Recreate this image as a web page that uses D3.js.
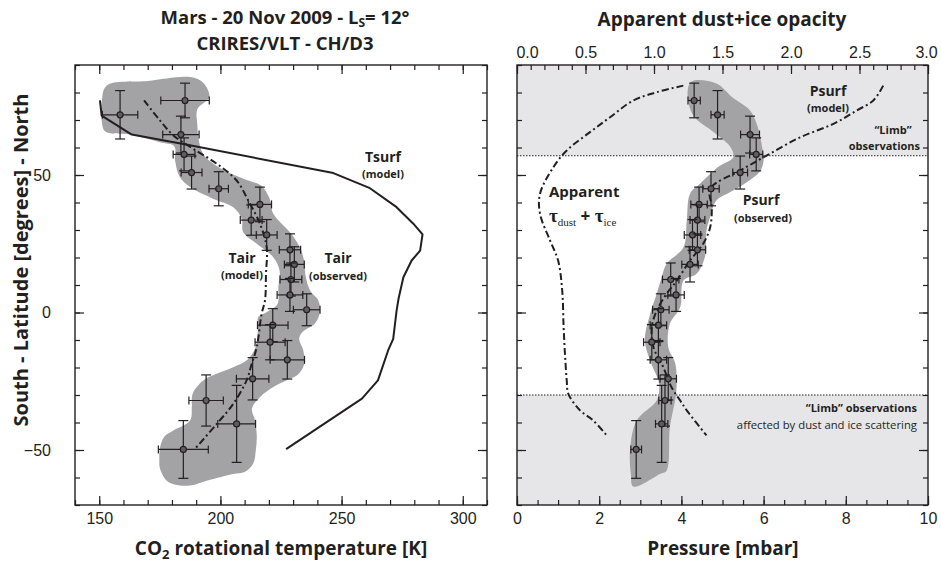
<!DOCTYPE html>
<html>
<head>
<meta charset="utf-8">
<script src="https://cdn.jsdelivr.net/npm/d3@7"></script>
<style>
  html, body { margin: 0; padding: 0; background: #fff; }
  svg { display: block; }
  .tick text { font-family: "Liberation Sans", Arial, sans-serif; font-size: 16px; fill: #231f20; }
  .tick line { stroke: #231f20; stroke-width: 1.2; }
  .domain { display: none; }
  .lbl { font-family: "Open Sans", sans-serif; fill: #231f20; }
</style>
</head>
<body>
<svg id="chart" width="941" height="564"></svg>
<script>
// ---- Observations (shared latitudes for both panels) ----
const lat      = [77.1, 71.9, 64.7, 57.5, 50.9, 45.0, 39.3, 33.6, 28.2, 22.8, 17.5, 12.0, 6.4, 1.0, -4.6, -10.8, -17.2, -24.1, -32.0, -40.5, -49.8];
const latErr   = [6.3, 8.8, 6.7, 6.0, 6.0, 6.2, 6.3, 5.5, 5.6, 5.8, 6.4, 6.0, 6.0, 5.8, 6.0, 6.4, 7.0, 7.7, 9.3, 14.0, 10.5];
// CO2 rotational temperature [K]
const tAir     = [185.4, 158.6, 183.7, 185.0, 188.1, 199.3, 216.3, 212.7, 219.1, 228.7, 230.5, 229.1, 228.7, 235.6, 221.6, 220.5, 227.6, 213.3, 194.1, 206.7, 184.7];
const tAirErr  = [10.0, 7.3, 7.5, 4.5, 4.3, 4.0, 4.8, 4.5, 4.3, 4.4, 4.1, 4.5, 5.3, 5.5, 6.3, 6.2, 7.1, 6.7, 7.1, 7.8, 10.3];
// Surface pressure [mbar]
const pSurf    = [4.31, 4.88, 5.67, 5.82, 5.43, 4.72, 4.43, 4.39, 4.27, 4.39, 4.21, 3.74, 3.87, 3.50, 3.44, 3.28, 3.44, 3.68, 3.60, 3.52, 2.90];
const pSurfErr = [0.15, 0.16, 0.23, 0.16, 0.18, 0.20, 0.20, 0.18, 0.20, 0.20, 0.20, 0.20, 0.20, 0.20, 0.20, 0.20, 0.20, 0.20, 0.15, 0.15, 0.13];

// ---- Model curves: [value, latitude] ----
const tSurfModel = [[150.3,77.1],[151,71.6],[163.4,64.7],[184.7,61.3],[246.6,50.7],[261.7,45.2],[272.7,38.3],[279.6,32.3],[283.4,28.4],[282.4,22.5],[278.9,18.9],[275.5,12.8],[273.5,5],[272.7,0.7],[271.3,-9.6],[269.2,-13.8],[265,-24.7],[258.4,-31.3],[227.1,-49.7]];
const tAirModel  = [[168.5,77.1],[175.1,69.8],[180.6,64.4],[188.8,59.5],[198.5,54.1],[206.7,48],[211.5,40.7],[216.3,32.3],[219.1,23.7],[218.8,14.1],[218.4,4.4],[217,-0.5],[215,-12.6],[212.9,-18.7],[210.8,-24.7],[205.3,-33.2],[198.5,-40.5],[189.5,-49.6]];
const pSurfModel = [[8.91,82.5],[8.67,77.1],[8.27,73.5],[7.70,68.6],[6.89,63.7],[6.08,57.1],[5.43,51.6],[4.70,45],[4.74,38.3],[4.70,31],[4.53,25],[4.21,18.9],[3.89,11.6],[3.64,6.8],[3.40,0.7],[3.28,-5.3],[3.32,-12.6],[3.56,-19.9],[3.76,-27.2],[3.97,-32],[4.13,-35.6],[4.61,-44.7]];
const tauApparent = [[1.214,82.5],[1.02,80.1],[0.849,77.1],[0.679,71],[0.533,65.6],[0.363,58.9],[0.265,52.8],[0.168,43.2],[0.168,35.9],[0.241,26.2],[0.30,18.9],[0.33,8],[0.34,-5],[0.35,-15],[0.363,-24.7],[0.375,-29.6],[0.46,-35.6],[0.557,-39.3],[0.655,-44.7]];

// ---- Uncertainty envelopes around the observations: [value, latitude] ----
const tAirEnvelope = [[151,76],[153,82.5],[170,84.2],[187.5,85.6],[193,83.5],[195.4,78.3],[190.5,74],[190.5,68],[191,63],[193,57.5],[200,52.5],[210,48.5],[217,46],[220.5,41],[221.5,36.5],[224,33.5],[228.7,29.2],[232.8,23.7],[234.5,18.9],[235.2,13],[237,8],[240.4,4.4],[241,0],[239,-4],[234,-7],[232.5,-9.5],[234.2,-13.8],[234.5,-19],[232,-22.5],[228.7,-24.1],[222,-27],[216.3,-30.8],[213,-35],[214.3,-39.3],[215,-45],[214.6,-50.2],[213.5,-55],[210,-58],[205.3,-58.7],[195,-61],[187.5,-62.9],[181,-62.5],[177.8,-61.1],[175,-56.5],[174.8,-53.8],[175.1,-49],[177,-45],[180.6,-42.9],[187.5,-39.3],[188.2,-34.4],[188.5,-29.6],[192.9,-24.7],[198.4,-22.3],[205,-20],[211,-17.3],[214.5,-12.5],[215.5,-6],[215.6,-1.7],[219,0.1],[223.5,3],[223.9,9.2],[224.4,15.3],[221.8,20.1],[215,25],[209.4,29.2],[208.8,34.1],[205.3,38.3],[197.1,41.3],[187.5,45.6],[183.3,49.2],[181.3,55.3],[181,60.4],[175,61.9],[162.7,64.7],[152.5,65.8],[151,70]];
const pSurfEnvelope = [[4.15,80],[4.25,84],[4.85,83.3],[5.26,78],[5.67,73.5],[5.86,67.4],[5.95,61.3],[6.0,55.3],[5.91,51.3],[5.59,47.4],[5.18,43.7],[4.85,40.7],[4.7,34.7],[4.61,29.8],[4.57,20.1],[4.37,14.1],[4.05,11.6],[3.97,1.9],[3.72,-4.1],[3.68,-12.6],[3.84,-18],[3.88,-22],[3.87,-29.6],[3.72,-41.7],[3.64,-57.5],[3.48,-58.7],[2.83,-63.3],[2.77,-58.7],[2.75,-50.2],[2.91,-39.3],[3.40,-32],[3.46,-27.5],[3.44,-24.7],[3.24,-17.5],[3.11,-10.2],[3.24,-0.5],[3.40,6.8],[3.52,12.8],[3.64,17.7],[4.05,23.7],[4.13,33.5],[4.21,43.2],[4.45,46.8],[4.9,53],[5.26,56.5],[5.2,60],[4.78,65.6],[4.29,71.6]];

// Latitude limits of the limb-affected zones
const limbNorth = 57, limbSouth = -30;

// ---- Tick values ----
const latMajor = [-50, 0, 50];
const latMinor = d3.range(-70, 91, 10);
const tMajor = [150, 200, 250, 300];
const tMinor = d3.range(140, 311, 10);
const pMajor = [0, 2, 4, 6, 8, 10];
const pMinor = d3.range(0, 10.01, 0.5);
const tauMajor = [0, 0.5, 1, 1.5, 2, 2.5, 3];
const tauMinor = d3.range(0, 3.001, 0.1);

// ---- Scales ----
const svg = d3.select("#chart");
const y    = d3.scaleLinear().domain([-70, 90]).range([505, 65]);
const xT   = d3.scaleLinear().domain([140, 310]).range([75, 487]);
const xP   = d3.scaleLinear().domain([0, 10]).range([517, 928]);
const xTau = d3.scaleLinear().domain([0, 3]).range([517, 928]);
const Y0 = y.range()[1], Y1 = y.range()[0];

const ink = "#231f20", bandFill = "#a3a3a6", shade = "#e6e6e8";

function clip(id, x0, x1) {
  svg.append("clipPath").attr("id", id).append("rect")
    .attr("x", x0).attr("y", Y0).attr("width", x1 - x0).attr("height", Y1 - Y0);
}
clip("clipL", xT.range()[0], xT.range()[1]);
clip("clipR", xP.range()[0], xP.range()[1]);

// ---- Right panel: limb zones ----
const R = svg.append("g");
const [rx0, rx1] = xP.range();
R.append("rect").attr("x", rx0).attr("y", Y0).attr("width", rx1 - rx0).attr("height", y(limbNorth) - Y0).attr("fill", shade);
R.append("rect").attr("x", rx0).attr("y", y(limbSouth)).attr("width", rx1 - rx0).attr("height", Y1 - y(limbSouth)).attr("fill", shade);
[limbNorth, limbSouth].forEach(v => {
  R.append("line").attr("x1", rx0).attr("x2", rx1).attr("y1", y(v)).attr("y2", y(v))
    .attr("stroke", ink).attr("stroke-width", 1).attr("stroke-dasharray", "1.5,1.5");
});

// ---- Envelopes ----
const envLine = (xs) => d3.line().x(d => xs(d[0])).y(d => y(d[1])).curve(d3.curveCatmullRomClosed.alpha(0.5));
svg.append("path").attr("d", envLine(xT)(tAirEnvelope)).attr("fill", bandFill).attr("clip-path", "url(#clipL)");
svg.append("path").attr("d", envLine(xP)(pSurfEnvelope)).attr("fill", bandFill).attr("clip-path", "url(#clipR)");

// ---- Model curves ----
const curve = (xs) => d3.line().x(d => xs(d[0])).y(d => y(d[1]));
const dashDot = "7,3,2,3";
svg.append("path").attr("d", curve(xT)(tSurfModel)).attr("fill", "none").attr("stroke", ink).attr("stroke-width", 2).attr("stroke-linejoin", "round").attr("clip-path", "url(#clipL)");
svg.append("path").attr("d", curve(xT).curve(d3.curveCatmullRom)(tAirModel)).attr("fill", "none").attr("stroke", ink).attr("stroke-width", 2).attr("stroke-dasharray", dashDot);
svg.append("path").attr("d", curve(xP).curve(d3.curveCatmullRom)(pSurfModel)).attr("fill", "none").attr("stroke", ink).attr("stroke-width", 2).attr("stroke-dasharray", dashDot);
svg.append("path").attr("d", curve(xTau).curve(d3.curveCatmullRom)(tauApparent)).attr("fill", "none").attr("stroke", ink).attr("stroke-width", 2).attr("stroke-dasharray", dashDot);

// ---- Error bars and points ----
function errorBars(xs, vals, errs) {
  const g = svg.append("g").attr("stroke", ink).attr("stroke-width", 1.2);
  vals.forEach((v, i) => {
    const cx = xs(v), cy = y(lat[i]);
    const yA = y(lat[i] + latErr[i]), yB = y(lat[i] - latErr[i]);
    const xA = xs(v - errs[i]), xB = xs(v + errs[i]);
    g.append("line").attr("x1", cx).attr("x2", cx).attr("y1", yA).attr("y2", yB);
    g.append("line").attr("x1", cx - 5).attr("x2", cx + 5).attr("y1", yA).attr("y2", yA);
    g.append("line").attr("x1", cx - 5).attr("x2", cx + 5).attr("y1", yB).attr("y2", yB);
    g.append("line").attr("x1", xA).attr("x2", xB).attr("y1", cy).attr("y2", cy);
    g.append("line").attr("x1", xA).attr("x2", xA).attr("y1", cy - 4).attr("y2", cy + 4);
    g.append("line").attr("x1", xB).attr("x2", xB).attr("y1", cy - 4).attr("y2", cy + 4);
    g.append("circle").attr("cx", cx).attr("cy", cy).attr("r", 3).attr("fill", "#5e5e60");
  });
}
errorBars(xT, tAir, tAirErr);
errorBars(xP, pSurf, pSurfErr);

// ---- Axes (ticks point inward) ----
function frameAxes(xs, xMajor, xMinor, topScale, topMajor, topMinor, withLatLabels, withBottomLabels) {
  const [x0, x1] = xs.range();
  const g = svg.append("g");
  // bottom
  g.append("g").attr("transform", `translate(0,${Y1})`)
    .call(d3.axisBottom(xs).tickValues(xMinor).tickSizeInner(-5).tickSizeOuter(0).tickFormat(""));
  g.append("g").attr("transform", `translate(0,${Y1})`)
    .call(d3.axisBottom(xs).tickValues(xMajor).tickSizeInner(-9).tickSizeOuter(0).tickPadding(8)
      .tickFormat(withBottomLabels ? d3.format("d") : ""));
  // top
  const ts = topScale || xs;
  g.append("g").attr("transform", `translate(0,${Y0})`)
    .call(d3.axisTop(ts).tickValues(topMinor || xMinor).tickSizeInner(-5).tickSizeOuter(0).tickFormat(""));
  const topAx = g.append("g").attr("transform", `translate(0,${Y0})`)
    .call(d3.axisTop(ts).tickValues(topMajor || xMajor).tickSizeInner(-9).tickSizeOuter(0).tickPadding(7)
      .tickFormat(topScale ? d3.format(".1f") : ""));
  // left
  g.append("g").attr("transform", `translate(${x0},0)`)
    .call(d3.axisLeft(y).tickValues(latMinor).tickSizeInner(-5).tickSizeOuter(0).tickFormat(""));
  g.append("g").attr("transform", `translate(${x0},0)`)
    .call(d3.axisLeft(y).tickValues(latMajor).tickSizeInner(-9).tickSizeOuter(0).tickPadding(24)
      .tickFormat(withLatLabels ? d3.format("d") : ""));
  // right
  g.append("g").attr("transform", `translate(${x1},0)`)
    .call(d3.axisRight(y).tickValues(latMinor).tickSizeInner(-5).tickSizeOuter(0).tickFormat(""));
  g.append("g").attr("transform", `translate(${x1},0)`)
    .call(d3.axisRight(y).tickValues(latMajor).tickSizeInner(-9).tickSizeOuter(0).tickFormat(""));
  // frame
  g.append("rect").attr("x", x0).attr("y", Y0).attr("width", x1 - x0).attr("height", Y1 - Y0)
    .attr("fill", "none").attr("stroke", ink).attr("stroke-width", 1.4);
  return topAx;
}
frameAxes(xT, tMajor, tMinor, null, null, null, true, true);
const tauAx = frameAxes(xP, pMajor, pMinor, xTau, tauMajor, tauMinor, false, true);
// keep the outermost opacity labels inside the panel
tauAx.selectAll(".tick text").attr("dx", (d, i, n) => i === 0 ? 10 : (i === n.length - 1 ? -2 : 0));

// ---- Text ----
function txt(x, yy, s, size, anchor, weight) {
  return svg.append("text").attr("class", "lbl").attr("x", x).attr("y", yy)
    .attr("text-anchor", anchor || "middle").style("font-size", size + "px")
    .style("font-weight", weight || 700).text(s);
}

// Two-line title
const t1 = txt(285, 24, "", 18.5);
t1.append("tspan").text("Mars - 20 Nov 2009 - L");
t1.append("tspan").style("font-size", "12px").attr("dy", 3).text("S");
t1.append("tspan").attr("dy", -3).text("= 12°");
t1.append("tspan").attr("x", 285).attr("dy", 26).text("CRIRES/VLT - CH/D3");

// Axis titles
const xl = txt(281, 555, "", 19);
xl.append("tspan").text("CO");
xl.append("tspan").style("font-size", "13px").attr("dy", 4).text("2");
xl.append("tspan").attr("dy", -4).text(" rotational temperature [K]");
txt(723, 555, "Pressure [mbar]", 19);
txt(722, 26, "Apparent dust+ice opacity", 19);
txt(0, 0, "South - Latitude [degrees] - North", 20).attr("transform", "translate(28,260) rotate(-90)");

// Left panel annotations
txt(383, 162, "Tsurf", 14);
txt(383, 178, "(model)", 11);
txt(338, 263, "Tair", 14);
txt(338, 280, "(observed)", 11);
txt(242, 263, "Tair", 14);
txt(242, 279, "(model)", 11);

// Right panel annotations
txt(828, 96, "Psurf", 14);
txt(828, 112, "(model)", 11);
txt(893, 134, "“Limb”", 11);
txt(920, 150, "observations", 11, "end");
txt(761, 205, "Psurf", 14);
txt(763, 222, "(observed)", 11);
txt(549, 197, "Apparent", 15, "start");
const tau = svg.append("text").attr("x", 549).attr("y", 222).attr("fill", ink)
  .style("font-family", "'Liberation Serif', serif").style("font-size", "19px").style("font-weight", 700);
tau.append("tspan").text("τ");
tau.append("tspan").style("font-size", "11px").style("font-weight", 400).attr("dy", 4).text("dust");
tau.append("tspan").attr("dy", -4).style("font-family", "'Open Sans', sans-serif").style("font-size", "17px").text(" + ");
tau.append("tspan").text("τ");
tau.append("tspan").style("font-size", "11px").style("font-weight", 400).attr("dy", 4).text("ice");
txt(917, 412, "“Limb” observations", 11, "end");
txt(917, 429, "affected by dust and ice scattering", 11.3, "end", 400);
</script>
</body>
</html>
